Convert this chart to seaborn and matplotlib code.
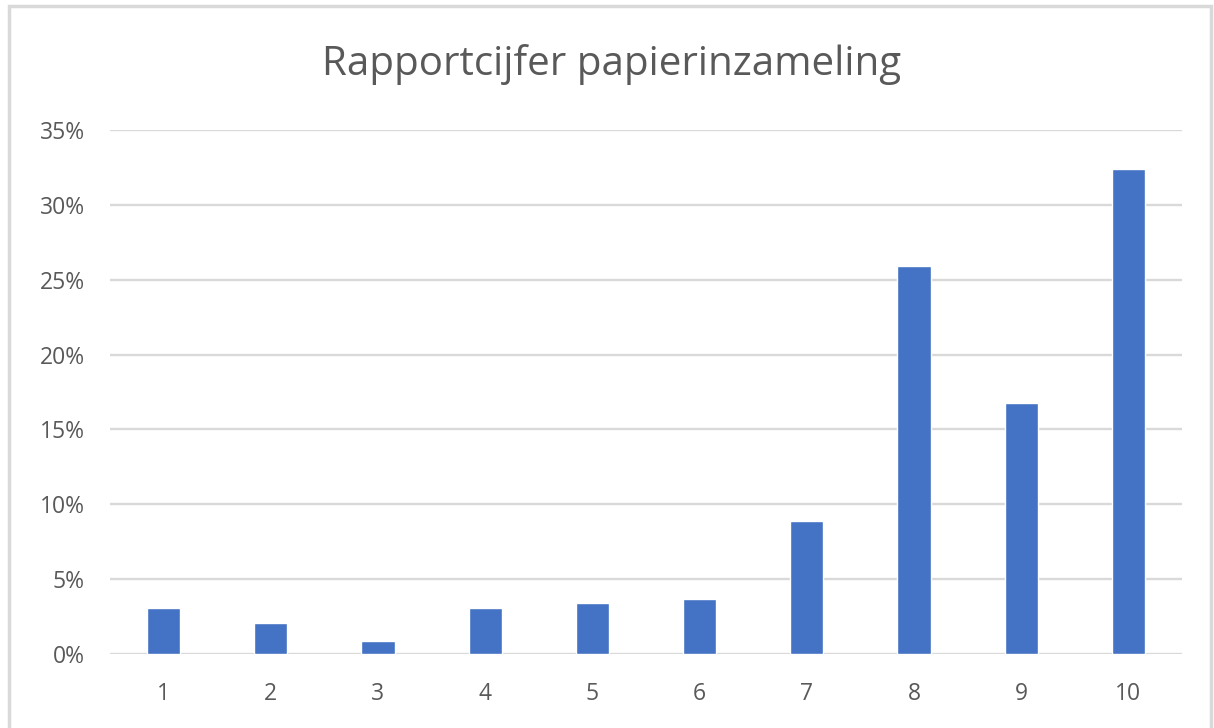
import numpy as np
import pandas as pd
import matplotlib
matplotlib.use("Agg")
import matplotlib.pyplot as plt
import seaborn as sns
from matplotlib.ticker import PercentFormatter
from matplotlib.patches import Rectangle

# data
cijfers = ['1', '2', '3', '4', '5', '6', '7', '8', '9', '10']
aandeel = [3.1, 2.05, 0.85, 3.1, 3.4, 3.65, 8.9, 25.95, 16.8, 32.4]
y_ticks = [0, 5, 10, 15, 20, 25, 30, 35]

df = pd.DataFrame({'cijfer': cijfers, 'aandeel': aandeel})

sns.set_theme(style='white')
plt.rcParams['font.family'] = ['Open Sans', 'DejaVu Sans']

text_col = '#595959'
grid_col = '#d9d9d9'

fig = plt.figure(figsize=(12.14, 7.28), dpi=100)
ax = fig.add_axes([0.0906, 0.1016, 0.8830, 0.7198])

sns.barplot(data=df, x='cijfer', y='aandeel', order=cijfers, color='#4472C4',
            width=0.31, saturation=1, ax=ax, zorder=3)

ax.set_xlim(-0.5, len(cijfers) - 0.5)
ax.set_ylim(0, 35)
ax.set_yticks(y_ticks)
ax.yaxis.set_major_formatter(PercentFormatter(decimals=0))
ax.grid(axis='y', color=grid_col, linewidth=1.7, zorder=0)
ax.set_axisbelow(True)
for s in ax.spines.values():
    s.set_visible(False)
ax.tick_params(axis='both', length=0, labelsize=16.5, labelcolor=text_col)
ax.tick_params(axis='y', pad=18)
ax.tick_params(axis='x', pad=20)
ax.set_xlabel('')
ax.set_ylabel('')

fig.text(0.504, 0.912, 'Rapportcijfer papierinzameling', ha='center', va='center',
         fontsize=29, color=text_col)

# outer chart frame
fig.patches.append(Rectangle((0.0075, -0.05), 0.99, 1.042, transform=fig.transFigure,
                             fill=False, edgecolor=grid_col, linewidth=2.5))

fig.savefig('out.png', dpi=100)
